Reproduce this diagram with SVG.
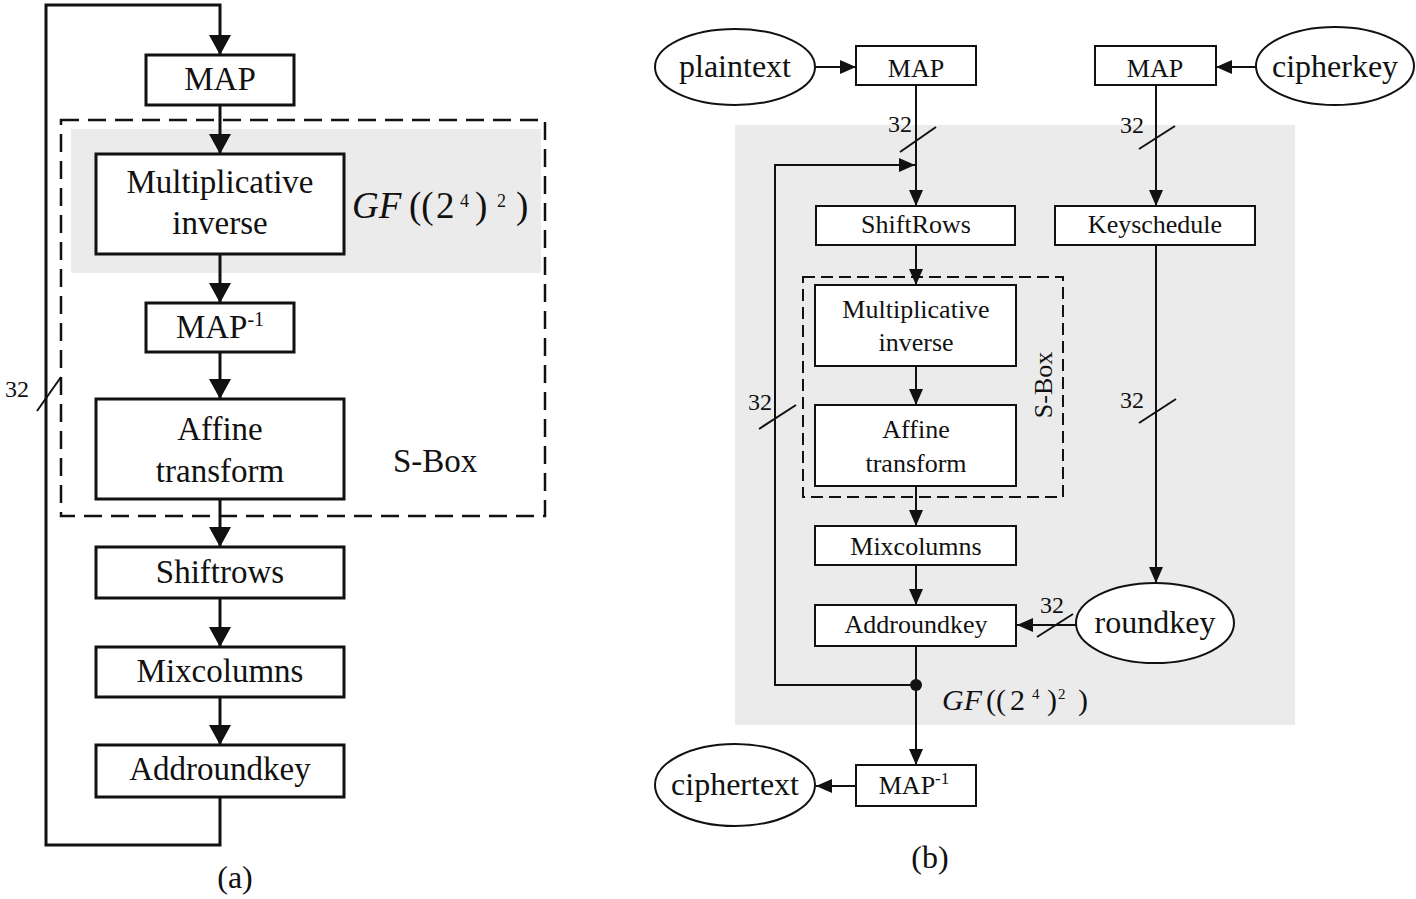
<svg xmlns="http://www.w3.org/2000/svg" width="1416" height="899" viewBox="0 0 1416 899">
<style>
text{font-family:"Liberation Serif","Times New Roman",serif;fill:#111}
.bl{fill:#fff;stroke:#111;stroke-width:3}
.br{fill:#fff;stroke:#111;stroke-width:2}
.ll{fill:none;stroke:#111;stroke-width:3}
.lr{fill:none;stroke:#111;stroke-width:2}
.tl{font-size:33px;text-anchor:middle}
.tr{font-size:26px;text-anchor:middle}
.te{font-size:32px;text-anchor:middle}
.n{font-size:24px}
.grey{fill:#ebebeb}
</style>
<defs>
<marker id="aL" viewBox="0 0 20 22" markerWidth="20" markerHeight="22" refX="20" refY="11" orient="auto" markerUnits="userSpaceOnUse"><path d="M0,0 L20,11 L0,22 z" fill="#111"/></marker>
<marker id="aR" viewBox="0 0 16 14" markerWidth="16" markerHeight="14" refX="16" refY="7" orient="auto" markerUnits="userSpaceOnUse"><path d="M0,0 L16,7 L0,14 z" fill="#111"/></marker>
</defs>

<!-- backgrounds -->
<rect class="grey" x="71" y="129" width="470" height="144"/>
<rect class="grey" x="735" y="125" width="560" height="600"/>

<!-- left S-Box region -->
<g id="sbox-a">
<rect x="61" y="120" width="484" height="396" fill="none" stroke="#111" stroke-width="2.5" stroke-dasharray="18,9"/>
<text x="393" y="472" font-size="33px">S-Box</text>
</g>
<g id="gf-a">
<text y="218" font-size="37px"><tspan x="352" font-style="italic">GF</tspan><tspan x="409">((</tspan><tspan x="436">2</tspan><tspan x="460" y="207" font-size="18px">4</tspan><tspan x="475" y="218">)</tspan><tspan x="497" y="207" font-size="18px">2</tspan><tspan x="516" y="218">)</tspan></text>
</g>

<!-- left connectors -->
<g id="connectors-a">
<polyline class="ll" points="220,797 220,845 46,845 46,5 220,5 220,55" marker-end="url(#aL)"/>
<line class="ll" x1="220" y1="105" x2="220" y2="154" marker-end="url(#aL)"/>
<line class="ll" x1="220" y1="254" x2="220" y2="303" marker-end="url(#aL)"/>
<line class="ll" x1="220" y1="352" x2="220" y2="399" marker-end="url(#aL)"/>
<line class="ll" x1="220" y1="499" x2="220" y2="547" marker-end="url(#aL)"/>
<line class="ll" x1="220" y1="598" x2="220" y2="647" marker-end="url(#aL)"/>
<line class="ll" x1="220" y1="697" x2="220" y2="745" marker-end="url(#aL)"/>
<line class="lr" x1="37" y1="411" x2="61" y2="377"/>
<text class="n" x="5" y="397">32</text>
</g>

<!-- left nodes -->
<g id="map-a"><rect class="bl" x="146" y="55" width="148" height="50"/><text class="tl" x="220" y="90">MAP</text></g>
<g id="mulinv-a"><rect class="bl" x="96" y="154" width="248" height="100"/><text class="tl" x="220" y="193">Multiplicative</text><text class="tl" x="220" y="234">inverse</text></g>
<g id="mapinv-a"><rect class="bl" x="146" y="303" width="148" height="49"/><text class="tl" x="220" y="338">MAP<tspan font-size="20px" dy="-12">-1</tspan></text></g>
<g id="affine-a"><rect class="bl" x="96" y="399" width="248" height="100"/><text class="tl" x="220" y="440">Affine</text><text class="tl" x="220" y="482">transform</text></g>
<g id="shift-a"><rect class="bl" x="96" y="547" width="248" height="51"/><text class="tl" x="220" y="583">Shiftrows</text></g>
<g id="mix-a"><rect class="bl" x="96" y="647" width="248" height="50"/><text class="tl" x="220" y="682">Mixcolumns</text></g>
<g id="add-a"><rect class="bl" x="96" y="745" width="248" height="52"/><text class="tl" x="220" y="780">Addroundkey</text></g>
<text id="cap-a" x="235" y="888" font-size="32px" text-anchor="middle">(a)</text>

<!-- right S-Box region -->
<g id="sbox-b">
<rect x="803" y="277" width="260" height="220" fill="none" stroke="#111" stroke-width="2" stroke-dasharray="12,6"/>
<text x="1052" y="385" font-size="26px" text-anchor="middle" transform="rotate(-90 1052 385)">S-Box</text>
</g>
<g id="gf-b">
<text y="710" font-size="30px"><tspan x="942" font-style="italic">GF</tspan><tspan x="986">((</tspan><tspan x="1010">2</tspan><tspan x="1032" y="699" font-size="15px">4</tspan><tspan x="1047" y="710">)</tspan><tspan x="1058" y="699" font-size="15px">2</tspan><tspan x="1078" y="710">)</tspan></text>
</g>

<!-- right connectors -->
<g id="connectors-b">
<line class="lr" x1="815" y1="67" x2="856" y2="67" marker-end="url(#aR)"/>
<line class="lr" x1="1256" y1="67" x2="1216" y2="67" marker-end="url(#aR)"/>
<line class="lr" x1="916" y1="85" x2="916" y2="206" marker-end="url(#aR)"/>
<line class="lr" x1="1156" y1="85" x2="1156" y2="206" marker-end="url(#aR)"/>
<line class="lr" x1="916" y1="245" x2="916" y2="285" marker-end="url(#aR)"/>
<line class="lr" x1="916" y1="366" x2="916" y2="405" marker-end="url(#aR)"/>
<line class="lr" x1="916" y1="486" x2="916" y2="526" marker-end="url(#aR)"/>
<line class="lr" x1="916" y1="565" x2="916" y2="605" marker-end="url(#aR)"/>
<line class="lr" x1="916" y1="646" x2="916" y2="765" marker-end="url(#aR)"/>
<line class="lr" x1="1156" y1="245" x2="1156" y2="583" marker-end="url(#aR)"/>
<line class="lr" x1="1076" y1="625" x2="1017" y2="625" marker-end="url(#aR)"/>
<line class="lr" x1="856" y1="786" x2="816" y2="786" marker-end="url(#aR)"/>
<polyline class="lr" points="916,685 775,685 775,165 915,165" marker-end="url(#aR)"/>
<circle cx="916" cy="685" r="6" fill="#111"/>
<line class="lr" x1="900" y1="152" x2="936" y2="127"/>
<line class="lr" x1="1139" y1="149" x2="1175" y2="126"/>
<line class="lr" x1="1139" y1="423" x2="1176" y2="399"/>
<line class="lr" x1="759" y1="429" x2="796" y2="405"/>
<line class="lr" x1="1037" y1="637" x2="1073" y2="614"/>
<text class="n" x="888" y="132">32</text>
<text class="n" x="1120" y="133">32</text>
<text class="n" x="1120" y="408">32</text>
<text class="n" x="748" y="410">32</text>
<text class="n" x="1040" y="613">32</text>
</g>

<!-- right nodes -->
<g id="plaintext"><ellipse class="br" cx="735" cy="67" rx="80" ry="38"/><text class="te" x="735" y="77">plaintext</text></g>
<g id="map-b1"><rect class="br" x="856" y="46" width="120" height="39"/><text class="tr" x="916" y="77">MAP</text></g>
<g id="map-b2"><rect class="br" x="1095" y="46" width="121" height="39"/><text class="tr" x="1155" y="77">MAP</text></g>
<g id="cipherkey"><ellipse class="br" cx="1335" cy="66" rx="79" ry="39"/><text class="te" x="1335" y="77">cipherkey</text></g>
<g id="shiftrows-b"><rect class="br" x="816" y="206" width="199" height="39"/><text class="tr" x="916" y="233">ShiftRows</text></g>
<g id="keyschedule"><rect class="br" x="1055" y="206" width="200" height="39"/><text class="tr" x="1155" y="233">Keyschedule</text></g>
<g id="mulinv-b"><rect class="br" x="815" y="285" width="201" height="81"/><text class="tr" x="916" y="318">Multiplicative</text><text class="tr" x="916" y="351">inverse</text></g>
<g id="affine-b"><rect class="br" x="815" y="405" width="201" height="81"/><text class="tr" x="916" y="438">Affine</text><text class="tr" x="916" y="472">transform</text></g>
<g id="mix-b"><rect class="br" x="815" y="526" width="201" height="39"/><text class="tr" x="916" y="555">Mixcolumns</text></g>
<g id="add-b"><rect class="br" x="815" y="605" width="201" height="41"/><text class="tr" x="916" y="633">Addroundkey</text></g>
<g id="roundkey"><ellipse class="br" cx="1155" cy="623" rx="79" ry="40"/><text class="te" x="1155" y="633">roundkey</text></g>
<g id="mapinv-b"><rect class="br" x="856" y="765" width="120" height="41"/><text class="tr" x="914" y="794">MAP<tspan font-size="17px" dy="-10">-1</tspan></text></g>
<g id="ciphertext"><ellipse class="br" cx="735" cy="785" rx="80" ry="41"/><text class="te" x="735" y="795">ciphertext</text></g>
<text id="cap-b" x="930" y="868" font-size="32px" text-anchor="middle">(b)</text>
</svg>
